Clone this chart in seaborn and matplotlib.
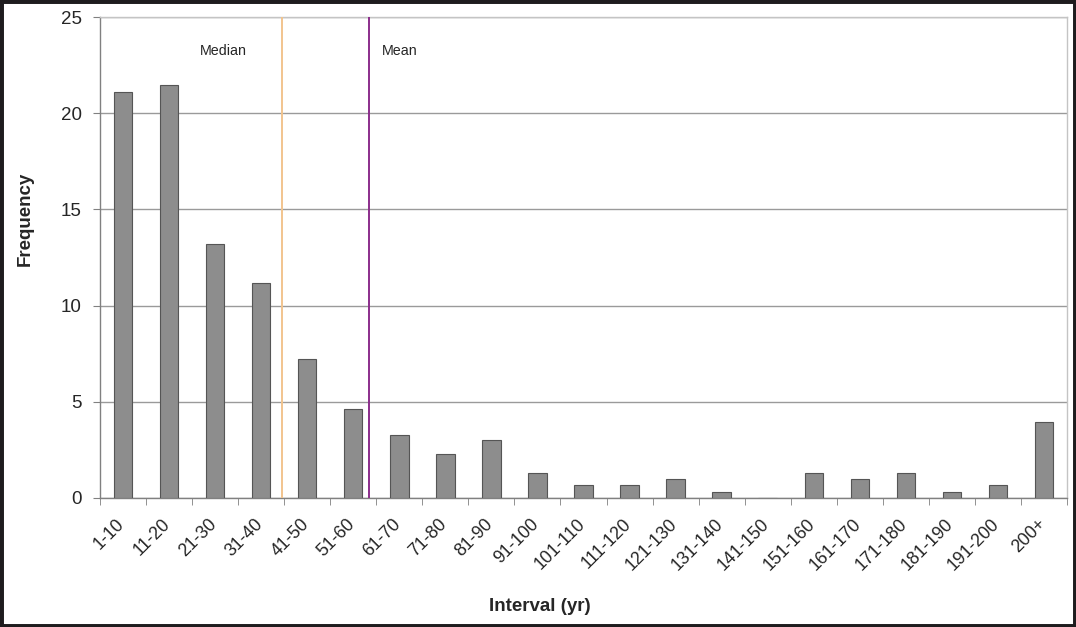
"""Fire-return interval histogram with median / mean markers.

Saves out.png (1076x627).
"""

import matplotlib
matplotlib.use("Agg")
import matplotlib.pyplot as plt
import matplotlib.transforms as mtransforms
from matplotlib.patches import Rectangle
import numpy as np
import seaborn as sns

INTERVALS = ["1-10", "11-20", "21-30", "31-40", "41-50", "51-60", "61-70",
             "71-80", "81-90", "91-100", "101-110", "111-120", "121-130",
             "131-140", "141-150", "151-160", "161-170", "171-180",
             "181-190", "191-200", "200+"]
FREQUENCY = [21.1, 21.45, 13.2, 11.2, 7.25, 4.6, 3.3, 2.3, 3.0, 1.3, 0.66,
             0.66, 1.0, 0.33, 0.0, 1.3, 1.0, 1.3, 0.33, 0.66, 3.95]
Y_TICKS = [0, 5, 10, 15, 20, 25]

# summary statistics in years (each bin is 10 yr wide)
MEDIAN_YR = 39.5
MEAN_YR = 58.4

BAR_COLOR = "#8d8d8d"
MEDIAN_COLOR = "#f2c48e"
MEAN_COLOR = "#8b2d8b"


def yr_to_pos(yr: float) -> float:
    # category i is centred at i, spans 10*i .. 10*(i+1) yr
    return yr / 10.0 - 0.5


def main() -> None:
    sns.set_style("white")
    plt.rcParams["font.family"] = ["Liberation Sans", "DejaVu Sans"]

    fig = plt.figure(figsize=(10.76, 6.27), dpi=100)
    ax = fig.add_axes([100 / 1076, 1 - 498 / 627, 967 / 1076, 481 / 627])

    sns.barplot(x=INTERVALS, y=FREQUENCY, color=BAR_COLOR, saturation=1,
                width=0.4, edgecolor="#555555", linewidth=0.8, ax=ax, zorder=3)

    ax.set_xlim(-0.5, len(INTERVALS) - 0.5)
    ax.set_ylim(0, 25)
    ax.set_yticks(Y_TICKS)
    ax.grid(axis="y", color="#9a9a9a", linewidth=1.0, zorder=0)
    ax.set_axisbelow(True)

    for side, col in [("left", "#808080"), ("bottom", "#808080"),
                      ("top", "#c4c4c4"), ("right", "#c4c4c4")]:
        ax.spines[side].set_color(col)
        ax.spines[side].set_linewidth(1.0)

    # Excel-style ticks: marks at bin edges, labels at bin centres
    ax.set_xticks(np.arange(-0.5, len(INTERVALS)), minor=True)
    ax.tick_params(axis="x", which="major", length=0, pad=13.5)
    ax.tick_params(axis="x", which="minor", length=5, color="#808080",
                   direction="out", bottom=True)
    ax.tick_params(axis="y", length=5, color="#808080", direction="out",
                   left=True, labelsize=13.5, pad=8)
    ax.set_xticks(range(len(INTERVALS)))
    ax.set_xticklabels(INTERVALS, rotation=45, ha="right", va="top",
                       fontsize=12.8)
    nudge = mtransforms.ScaledTranslation(5 / 100, 1 / 100, fig.dpi_scale_trans)
    for lab in ax.get_xticklabels():
        lab.set_transform(lab.get_transform() + nudge)

    ax.axvline(yr_to_pos(MEDIAN_YR), color=MEDIAN_COLOR, linewidth=1.4, zorder=4)
    ax.axvline(yr_to_pos(MEAN_YR), color=MEAN_COLOR, linewidth=1.4, zorder=4)
    ax.text(yr_to_pos(MEDIAN_YR) - 1.78, 23.25, "Median", fontsize=10.3,
            ha="left", va="center")
    ax.text(yr_to_pos(MEAN_YR) + 0.28, 23.25, "Mean", fontsize=10.3,
            ha="left", va="center")

    ax.set_ylabel("Frequency", fontsize=13.5, fontweight="bold", va="center")
    ax.yaxis.set_label_coords(-0.0776, 0.58)
    ax.set_xlabel("Interval (yr)", fontsize=13.5, fontweight="bold", va="center")
    ax.xaxis.set_label_coords(0.455, -0.2266)

    # dark frame around the whole picture
    fig.patches.append(Rectangle((0, 0), 1, 1, transform=fig.transFigure,
                                 fill=False, edgecolor="#1e1c1e",
                                 linewidth=5.0, zorder=10))

    fig.savefig("out.png", dpi=100)
    plt.close(fig)


if __name__ == "__main__":
    main()
